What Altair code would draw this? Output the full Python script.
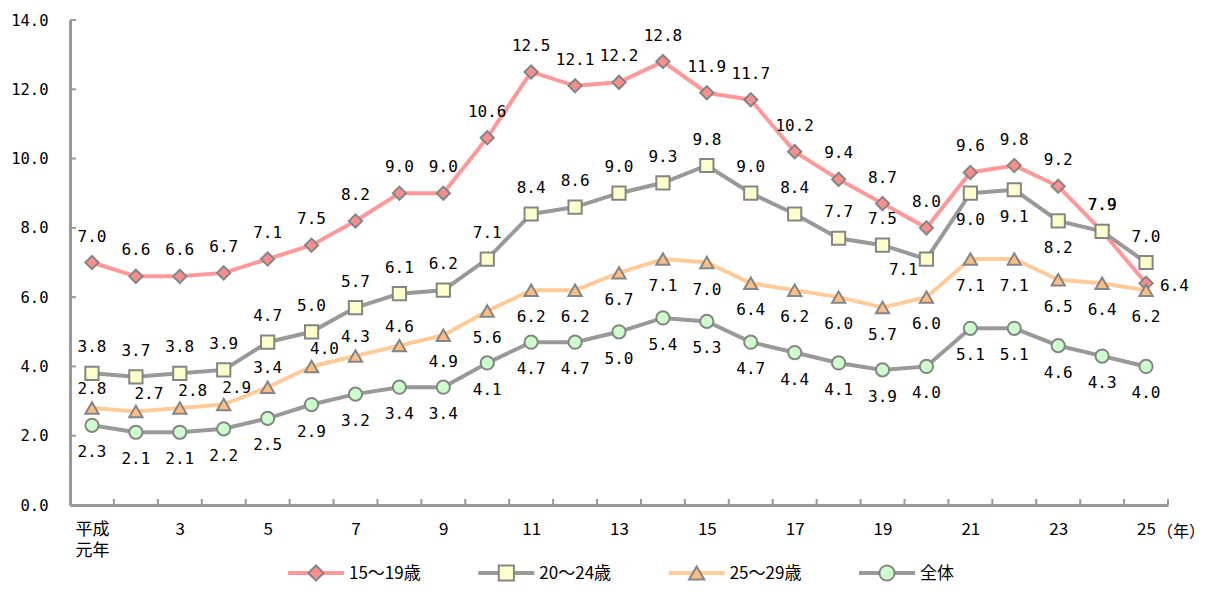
import altair as alt
import pandas as pd

# ---- data ----
years = list(range(1, 26))
series_names = ["15～19歳", "20～24歳", "25～29歳", "全体"]
v_15_19 = [7.0, 6.6, 6.6, 6.7, 7.1, 7.5, 8.2, 9.0, 9.0, 10.6, 12.5, 12.1, 12.2, 12.8,
           11.9, 11.7, 10.2, 9.4, 8.7, 8.0, 9.6, 9.8, 9.2, 7.9, 6.4]
v_20_24 = [3.8, 3.7, 3.8, 3.9, 4.7, 5.0, 5.7, 6.1, 6.2, 7.1, 8.4, 8.6, 9.0, 9.3,
           9.8, 9.0, 8.4, 7.7, 7.5, 7.1, 9.0, 9.1, 8.2, 7.9, 7.0]
v_25_29 = [2.8, 2.7, 2.8, 2.9, 3.4, 4.0, 4.3, 4.6, 4.9, 5.6, 6.2, 6.2, 6.7, 7.1,
           7.0, 6.4, 6.2, 6.0, 5.7, 6.0, 7.1, 7.1, 6.5, 6.4, 6.2]
v_total = [2.3, 2.1, 2.1, 2.2, 2.5, 2.9, 3.2, 3.4, 3.4, 4.1, 4.7, 4.7, 5.0, 5.4,
           5.3, 4.7, 4.4, 4.1, 3.9, 4.0, 5.1, 5.1, 4.6, 4.3, 4.0]
# label placement codes (t: above, ts: above-near, tr: above-right, b: below, bl: below-left, r: right)
pos_15_19 = ["t"] * 24 + ["r"]
pos_20_24 = ["t"] * 19 + ["bl", "b", "b", "b", "t", "t"]
pos_25_29 = ["ts", "tr", "tr", "tr", "ts", "tr", "ts", "ts"] + ["b"] * 17
pos_total = ["b"] * 25

y_ticks = [0, 2, 4, 6, 8, 10, 12, 14]
x_label_years = [1, 3, 5, 7, 9, 11, 13, 15, 17, 19, 21, 23, 25]
x_boundaries = [k + 0.5 for k in range(0, 26)]
unit_text = "（年）"

line_colors = ["#FF9999", "#999999", "#FFCC99", "#999999"]
fill_colors = ["#F98E8E", "#FFFFCC", "#FBBF86", "#CCFFCC"]
shapes = ["diamond", "square", "triangle-up", "circle"]

rows = []
for name, vals, poss in zip(series_names, [v_15_19, v_20_24, v_25_29, v_total],
                            [pos_15_19, pos_20_24, pos_25_29, pos_total]):
    for yr, v, p in zip(years, vals, poss):
        rows.append({"series": name, "year": yr, "value": v, "pos": p, "label": f"{v:.1f}"})
df = pd.DataFrame(rows)

legend_df = pd.DataFrame({"series": series_names, "li": [0, 1, 2, 3]})

GREY = "#999999"
MARK_STROKE = "#858585"

xdomain = [0.5, 25.5]
x_enc = alt.X("year:Q", scale=alt.Scale(domain=xdomain, nice=False, zero=False),
              axis=alt.Axis(values=x_label_years, ticks=False, grid=False,
                            domainColor=GREY, domainWidth=3, labelColor="#000",
                            labelFont="Noto Sans CJK JP", labelFontSize=17,
                            labelPadding=16, labelLineHeight=21,
                            labelOverlap=False, labelFlush=False,
                            labelExpr="datum.value == 1 ? ['平成','元年'] : datum.label",
                            title=None))
y_enc = alt.Y("value:Q", scale=alt.Scale(domain=[0, 14], nice=False),
              axis=alt.Axis(values=y_ticks, format=".1f", ticks=False, grid=False,
                            domainColor=GREY, domainWidth=3, labelColor="#000",
                            labelFont="DejaVu Sans Mono", labelFontSize=15.5,
                            labelPadding=22, title=None))

color_scale = alt.Scale(domain=series_names, range=line_colors)
fill_scale = alt.Scale(domain=series_names, range=fill_colors)
shape_scale = alt.Scale(domain=series_names, range=shapes)

base = alt.Chart(df)

lines = base.mark_line(strokeWidth=4).encode(
    x=x_enc, y=y_enc,
    color=alt.Color("series:N", scale=color_scale, legend=None),
    detail="series:N", order="year:Q")

points = base.mark_point(filled=True, size=175, stroke=MARK_STROKE, strokeWidth=2, opacity=1).encode(
    x=x_enc, y=y_enc,
    fill=alt.Fill("series:N", scale=fill_scale, legend=None),
    shape=alt.Shape("series:N", scale=shape_scale, legend=None))

placements = {
    "t": dict(dx=0, dy=-26, align="center"),
    "ts": dict(dx=0, dy=-19, align="center"),
    "tr": dict(dx=13, dy=-17, align="center"),
    "b": dict(dx=0, dy=27, align="center"),
    "bl": dict(dx=-23, dy=11, align="center"),
    "r": dict(dx=14, dy=3, align="left"),
}
text_layers = []
for code, p in placements.items():
    text_layers.append(
        base.transform_filter(alt.datum.pos == code).mark_text(
            font="DejaVu Sans Mono", fontSize=16, color="#000", baseline="middle", **p
        ).encode(x=x_enc, y=y_enc, text="label:N"))

# inward tick marks
yt = alt.Chart(pd.DataFrame({"value": y_ticks})).mark_rule(color=GREY, strokeWidth=2).encode(
    y=y_enc, x=alt.value(0), x2=alt.value(6))
xt = alt.Chart(pd.DataFrame({"year": x_boundaries})).mark_rule(color=GREY, strokeWidth=2).encode(
    x=x_enc, y=alt.value(485), y2=alt.value(479))

unit = alt.Chart(pd.DataFrame({"year": [25.5], "t": [unit_text]})).mark_text(
    font="Noto Sans CJK JP", fontSize=16, color="#000", align="left", baseline="middle", dx=-11
).encode(x=x_enc, y=alt.value(512), text="t:N")

main = alt.layer(lines, points, *text_layers, yt, xt, unit)

# legend built from the series names
lx = alt.X("li:Q", scale=alt.Scale(domain=[0, 3], range=[246, 817]), axis=None)
lbase = alt.Chart(legend_df)
leg_lines = lbase.mark_point(shape="M-1,0L1,0", size=56 * 56, strokeWidth=4, filled=False, opacity=1).encode(
    x=lx, y=alt.value(553), color=alt.Color("series:N", scale=color_scale, legend=None))
leg_pts = lbase.mark_point(filled=True, size=230, stroke=MARK_STROKE, strokeWidth=2, opacity=1).encode(
    x=lx, y=alt.value(553),
    fill=alt.Fill("series:N", scale=fill_scale, legend=None),
    shape=alt.Shape("series:N", scale=shape_scale, legend=None))
leg_txt = lbase.mark_text(font="Noto Sans CJK JP", fontSize=17, color="#000", align="left",
                          baseline="middle", dx=33).encode(
    x=lx, y=alt.value(554), text="series:N")
legend = alt.layer(leg_lines, leg_pts, leg_txt)

chart = alt.layer(main, legend).resolve_scale(x="independent").properties(
    width=1098, height=485,
    autosize=alt.AutoSizeParams(type="none"),
    padding={"left": 62, "top": 12, "right": 38, "bottom": 80},
    background="white",
).configure_view(stroke=None)

chart.save("out.html", embed_options={"renderer": "svg", "actions": False})
